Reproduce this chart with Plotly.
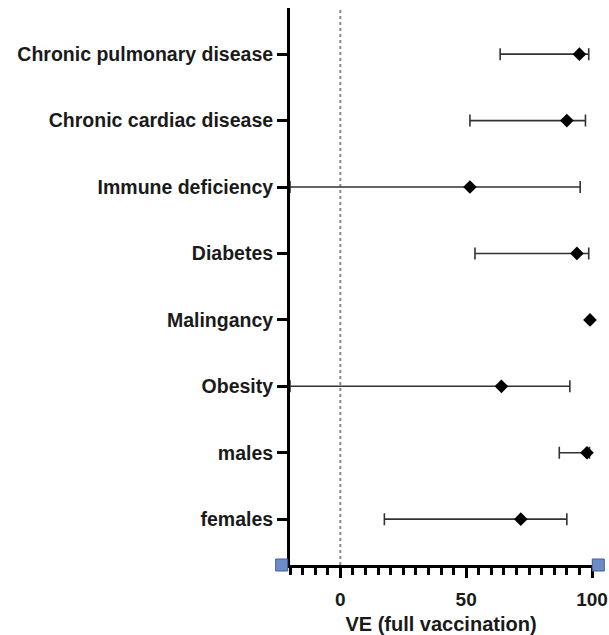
import plotly.graph_objects as go

categories = ["females", "males", "Obesity", "Malingancy", "Diabetes",
              "Immune deficiency", "Chronic cardiac disease", "Chronic pulmonary disease"]
ve = [71.7, 98.0, 64.0, 99.2, 94.0, 51.5, 90.0, 95.0]
ci_low = [17.5, 87.0, -20.0, 99.2, 53.5, -20.0, 51.5, 63.5]
ci_high = [90.0, 99.0, 91.2, 99.2, 98.7, 95.3, 97.4, 98.7]

X_RANGE = [-20, 100]
FONT = "Liberation Sans, Arial, sans-serif"

fig = go.Figure()
fig.add_trace(go.Scatter(
    x=ve,
    y=categories,
    mode="markers",
    marker={"symbol": "diamond", "size": 10.5, "color": "black"},
    error_x={
        "type": "data",
        "symmetric": False,
        "array": [h - v for h, v in zip(ci_high, ve)],
        "arrayminus": [v - lo for v, lo in zip(ve, ci_low)],
        "color": "#333333",
        "thickness": 1.6,
        "width": 6,
    },
    cliponaxis=False,
    showlegend=False,
))

# dotted reference line at 0
fig.add_shape(type="line", xref="x", yref="paper", x0=0, x1=0, y0=0, y1=1,
              line={"color": "#888888", "width": 2, "dash": "dot"}, layer="below")

# small blue end markers on the x axis
span = X_RANGE[1] - X_RANGE[0]
for xa in [-23.3, 102.5]:
    fig.add_shape(type="rect", xref="paper", yref="paper", xsizemode="pixel", ysizemode="pixel",
                  xanchor=(xa - X_RANGE[0]) / span, yanchor=0, x0=-6, x1=6, y0=-6, y1=6,
                  fillcolor="#6B8CC7", line={"color": "#3F5F9A", "width": 1})

fig.update_layout(
    width=609,
    height=635,
    margin={"l": 290, "r": 17, "t": 8, "b": 70, "autoexpand": False},
    plot_bgcolor="white",
    paper_bgcolor="white",
    font={"family": FONT, "size": 19, "color": "#1a1a1a"},
    xaxis={
        "range": X_RANGE,
        "tickvals": [0, 50, 100],
        "ticks": "outside",
        "ticklen": 10,
        "tickwidth": 3,
        "tickcolor": "black",
        "minor": {"dtick": 5, "tick0": 0, "ticks": "outside", "ticklen": 7,
                  "tickwidth": 2.5, "tickcolor": "black"},
        "showgrid": False,
        "zeroline": False,
        "showline": True,
        "linecolor": "black",
        "linewidth": 3,
        "ticklabeloverflow": "allow",
        "ticklabelstandoff": 5,
        "tickfont": {"size": 19, "weight": "bold"},
        "title": {"text": "VE (full vaccination)", "font": {"size": 20, "weight": "bold"},
                  "standoff": 11},
    },
    yaxis={
        "type": "category",
        "categoryorder": "array",
        "categoryarray": categories,
        "range": [-0.69, 7.695],
        "ticks": "outside",
        "ticklen": 10,
        "tickwidth": 3,
        "tickcolor": "black",
        "showgrid": False,
        "zeroline": False,
        "showline": True,
        "linecolor": "black",
        "linewidth": 3,
        "tickfont": {"size": 19.5, "weight": "bold"},
    },
)

# drop the default page margin so the 609x635 figure fills the window exactly
fig.write_html("out.html", config={"displayModeBar": False},
               post_script="document.body.style.margin = '0';")
